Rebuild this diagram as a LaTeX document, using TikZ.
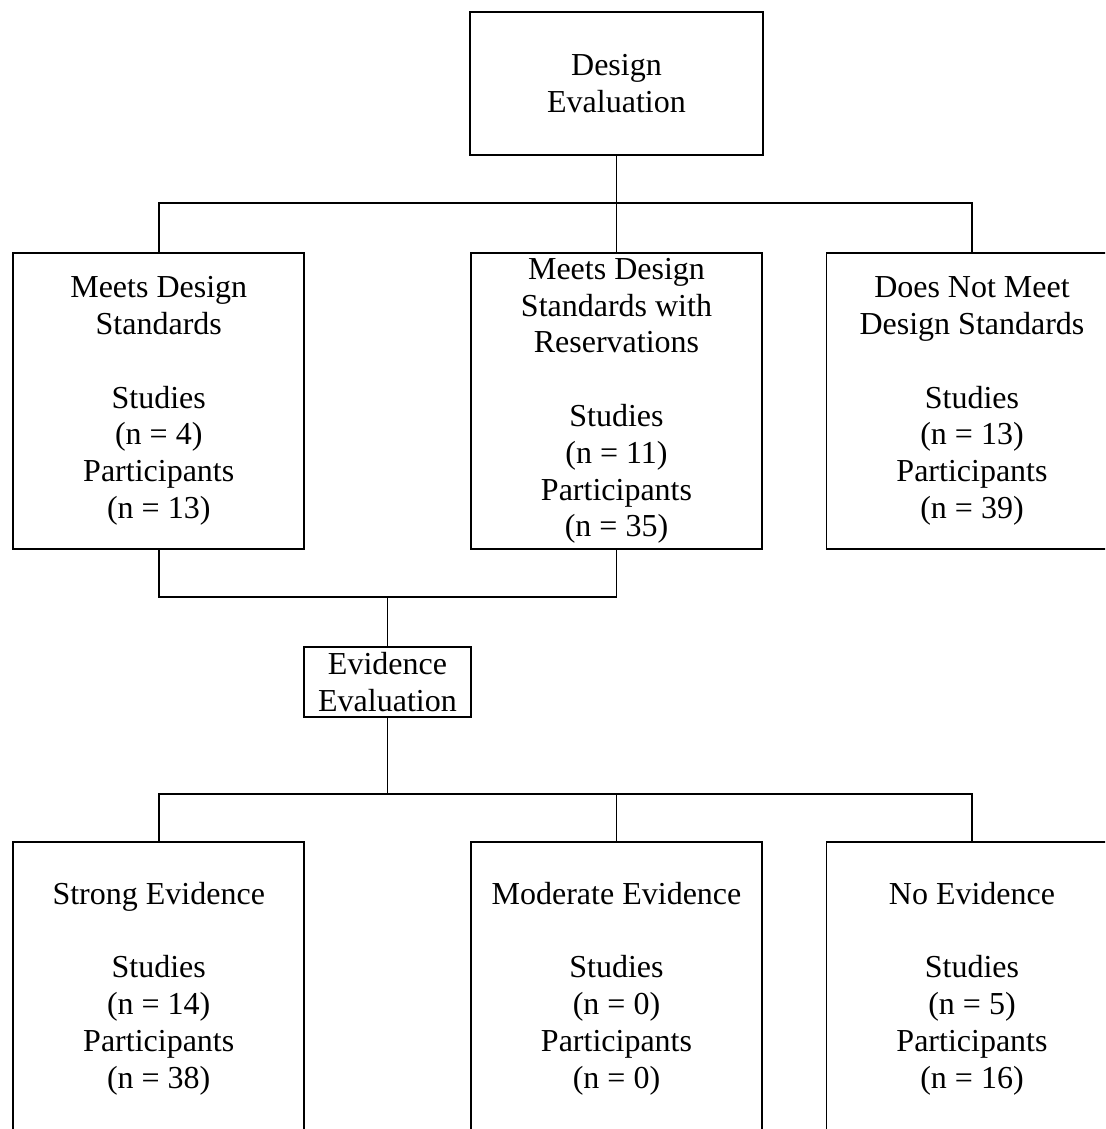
\documentclass[tikz,border=0pt]{standalone}
\usepackage{fontspec}
\setmainfont{Liberation Serif}
\begin{document}
\begin{tikzpicture}[x=0.5pt,y=-0.5pt,
  box/.style={draw, line width=0.9pt, inner sep=0pt, align=center,
    font=\fontsize{16}{18.4}\selectfont},
  conn/.style={line width=0.9pt}]
\useasboundingbox (0,0) rectangle (1105,1129);
\clip (0,0) rectangle (1105,1129);
% levels
\coordinate (bar1) at (0,203);
\coordinate (bar2) at (0,597);
\coordinate (bar3) at (0,794);
% top
\node[box, minimum width=146.5pt, minimum height=71.5pt] (top) at (616.5,83.5) {Design\\Evaluation};
% row 2
\node[box, minimum width=145.5pt, minimum height=148pt] (m1) at (158.75,401)
  {Meets Design\\Standards\\[\baselineskip]Studies\\(n = 4)\\Participants\\(n = 13)};
\node[box, minimum width=145.5pt, minimum height=148pt] (m2) at (616.5,401)
  {Meets Design\\Standards with\\Reservations\\[\baselineskip]Studies\\(n = 11)\\Participants\\(n = 35)};
\node[box, minimum width=145.5pt, minimum height=148pt] (m3) at (972,401)
  {Does Not Meet\\Design Standards\\[\baselineskip]Studies\\(n = 13)\\Participants\\(n = 39)};
% evidence evaluation
\node[box, minimum width=83.5pt, minimum height=35pt] (ev) at (387.5,682) {Evidence\\Evaluation};
% bottom row
\node[box, minimum width=145.5pt, minimum height=146.5pt] (e1) at (158.75,988.5)
  {Strong Evidence\\[\baselineskip]Studies\\(n = 14)\\Participants\\(n = 38)};
\node[box, minimum width=145.5pt, minimum height=146.5pt] (e2) at (616.5,988.5)
  {Moderate Evidence\\[\baselineskip]Studies\\(n = 0)\\Participants\\(n = 0)};
\node[box, minimum width=145.5pt, minimum height=146.5pt] (e3) at (972,988.5)
  {No Evidence\\[\baselineskip]Studies\\(n = 5)\\Participants\\(n = 16)};
% connectors
\draw[conn] (top.south) -- (top.south |- bar1);
\draw[conn] (m1.north) |- (m3.north |- bar1) -- (m3.north);
\draw[conn] (m2.north) -- (m2.north |- bar1);
\draw[conn] (m1.south) |- (m2.south |- bar2) -- (m2.south);
\draw[conn] (ev.north) -- (ev.north |- bar2);
\draw[conn] (ev.south) -- (ev.south |- bar3);
\draw[conn] (e1.north) |- (e3.north |- bar3) -- (e3.north);
\draw[conn] (e2.north) -- (e2.north |- bar3);
\end{tikzpicture}
\end{document}
